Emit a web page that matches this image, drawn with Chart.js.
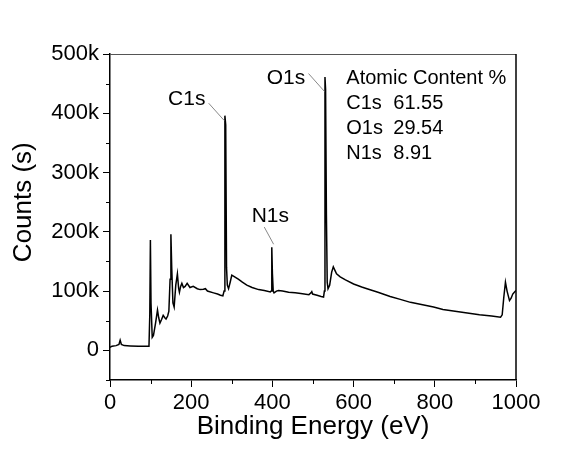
<!DOCTYPE html>
<html lang="en">
<head>
<meta charset="UTF-8">
<title>XPS Survey Spectrum</title>
<script src="https://cdn.jsdelivr.net/npm/chart.js"></script>
<style>
  * { margin: 0; padding: 0; box-sizing: border-box; }
  body { background: #fff; }
  .chart-box { position: relative; width: 587px; height: 450px; }
</style>
</head>
<body>
<div class="chart-box"><canvas id="xps"></canvas></div>
<script>
// survey spectrum
const energy = [0, 5, 15, 22, 25, 28, 35, 50, 70, 90, 96, 98, 99.5, 101, 104, 107, 112, 117, 120, 123,
  127, 131, 135, 138, 142, 145, 148, 150, 152, 155, 158, 162, 166, 169, 171, 174, 177, 181, 185, 190,
  197, 205, 215, 222, 230, 235, 240, 255, 265, 272, 278, 281, 283, 285, 287, 289, 292, 296, 300, 305,
  316, 326, 337, 350, 366, 380, 395, 397, 398.5, 400, 402, 404, 410, 415, 425, 440, 456, 470, 490, 495,
  497, 499, 510, 520, 526, 528, 529.5, 531, 533, 535, 537, 541, 546, 550, 554, 558, 567, 580, 600, 620,
  633, 660, 690, 715, 740, 770, 797, 820, 850, 880, 910, 940, 962, 966, 970, 974, 978, 984, 988, 992,
  997, 1000];
const counts = [5000, 7000, 8000, 10000, 17000, 10000, 8000, 7500, 7000, 7000, 7000, 60000, 186000, 80000, 22000, 25000, 45000, 68000, 55000, 46000,
  52000, 59000, 55000, 53000, 58000, 66000, 120000, 196000, 140000, 80000, 73000, 110000, 129000, 105000, 98000, 108000, 113000, 106000, 108000, 113000,
  106000, 108000, 104000, 102500, 103000, 104000, 100000, 97000, 95000, 93000, 92000, 100000, 396000, 380000, 140000, 110000, 104000, 115000, 127000, 125000,
  120000, 115000, 110000, 106000, 102500, 101000, 98500, 100000, 174000, 130000, 100000, 97000, 100000, 101000, 100000, 98000, 97000, 96000, 94000, 97000,
  99000, 95000, 93000, 91000, 90000, 100000, 461000, 440000, 230000, 115000, 104000, 110000, 132000, 141000, 135000, 129000, 124000, 119000, 112000, 107000,
  104000, 98000, 91000, 86000, 81000, 77000, 73000, 69000, 66000, 63000, 60000, 58000, 56000, 60000, 90000, 115000, 100000, 84000, 88000, 95000,
  99000, 101000];

const xTicks = [0, 200, 400, 600, 800, 1000];
const xMinor = [100, 300, 500, 700, 900];
const yTicks = [0, 100000, 200000, 300000, 400000, 500000];
const yTickLabels = ['0', '100k', '200k', '300k', '400k', '500k'];
const yMinor = [-50000, 50000, 150000, 250000, 350000, 450000];

const contentNames = ['C1s', 'O1s', 'N1s'];
const contentValues = ['61.55', '29.54', '8.91'];

// peak labels: text anchor and leader line, in data units (eV, counts)
const peakLabels = [
  { text: 'C1s', at: [143, 414000], from: [243, 417000], to: [281, 388000] },
  { text: 'O1s', at: [386, 450000], from: [489, 467000], to: [528, 437000] },
  { text: 'N1s', at: [349, 217000], from: [380, 208000], to: [403, 179000] }
];

const FONT = "'Liberation Sans', Arial, sans-serif";

const extras = {
  id: 'extras',
  afterDraw(chart) {
    const { ctx, chartArea: a, scales: { x, y } } = chart;
    ctx.save();

    // top / right frame
    ctx.strokeStyle = '#555';
    ctx.lineWidth = 1;
    ctx.beginPath();
    ctx.moveTo(a.left, a.top + 0.5);
    ctx.lineTo(a.right, a.top + 0.5);
    ctx.stroke();
    ctx.strokeStyle = '#000';
    ctx.lineWidth = 1.5;
    ctx.beginPath();
    ctx.moveTo(a.right, a.top);
    ctx.lineTo(a.right, a.bottom);
    ctx.stroke();

    // minor ticks
    ctx.lineWidth = 1;
    ctx.beginPath();
    xMinor.forEach(v => {
      const px = Math.round(x.getPixelForValue(v)) + 0.5;
      ctx.moveTo(px, a.bottom);
      ctx.lineTo(px, a.bottom + 4);
    });
    yMinor.forEach(v => {
      const py = Math.round(y.getPixelForValue(v)) + 0.5;
      ctx.moveTo(a.left, py);
      ctx.lineTo(a.left - 4, py);
    });
    ctx.stroke();

    // axis titles
    ctx.fillStyle = '#000';
    ctx.font = '26px ' + FONT;
    ctx.textAlign = 'center';
    ctx.textBaseline = 'alphabetic';
    ctx.fillText('Binding Energy (eV)', (a.left + a.right) / 2, 434);
    ctx.save();
    ctx.translate(24, (y.getPixelForValue(0) + a.top) / 2);
    ctx.rotate(-Math.PI / 2);
    ctx.textBaseline = 'middle';
    ctx.fillText('Counts (s)', 0, 0);
    ctx.restore();

    // peak labels
    ctx.textAlign = 'left';
    ctx.textBaseline = 'alphabetic';
    ctx.font = '21px ' + FONT;
    peakLabels.forEach(p => {
      ctx.fillStyle = '#000';
      ctx.fillText(p.text, x.getPixelForValue(p.at[0]), y.getPixelForValue(p.at[1]));
      ctx.strokeStyle = '#888';
      ctx.lineWidth = 1;
      ctx.beginPath();
      ctx.moveTo(x.getPixelForValue(p.from[0]), y.getPixelForValue(p.from[1]));
      ctx.lineTo(x.getPixelForValue(p.to[0]), y.getPixelForValue(p.to[1]));
      ctx.stroke();
    });

    // atomic content table
    ctx.font = '20px ' + FONT;
    ctx.fillStyle = '#000';
    const tx = x.getPixelForValue(582);
    const ty = y.getPixelForValue(449000);
    ctx.fillText('Atomic Content %', tx, ty);
    contentNames.forEach((n, i) => {
      ctx.fillText(n, tx, ty + 25 * (i + 1));
      ctx.fillText(contentValues[i], tx + 47, ty + 25 * (i + 1));
    });

    ctx.restore();
  }
};

new Chart(document.getElementById('xps'), {
  type: 'line',
  data: {
    datasets: [{
      data: energy.map((e, i) => ({ x: e, y: counts[i] })),
      borderColor: '#000',
      borderWidth: 1.5,
      pointRadius: 0,
      tension: 0,
      fill: false
    }]
  },
  options: {
    responsive: true,
    maintainAspectRatio: false,
    animation: false,
    layout: { padding: { left: 0, right: 71, top: 54, bottom: 0 } },
    plugins: { legend: { display: false }, tooltip: { enabled: false } },
    scales: {
      x: {
        type: 'linear',
        min: 0,
        max: 1000,
        afterBuildTicks: s => { s.ticks = xTicks.map(v => ({ value: v })); },
        afterFit: s => { s.height = 70; },
        border: { display: true, color: '#000', width: 1.5 },
        grid: { display: true, drawOnChartArea: false, tickLength: 7, color: '#000', tickWidth: 1 },
        ticks: {
          color: '#000', padding: 3, maxRotation: 0, autoSkip: false,
          font: { family: FONT, size: 22 },
          callback: v => String(v)
        }
      },
      y: {
        type: 'linear',
        min: -50000,
        max: 500000,
        afterBuildTicks: s => { s.ticks = yTicks.map(v => ({ value: v })); },
        afterFit: s => { s.width = 110; },
        border: { display: true, color: '#000', width: 1.5 },
        grid: { display: true, drawOnChartArea: false, tickLength: 7, tickWidth: 1, color: '#000' },
        ticks: {
          color: '#000', padding: 4, autoSkip: false,
          font: { family: FONT, size: 22 },
          callback: (v, i) => yTickLabels[i]
        }
      }
    }
  },
  plugins: [extras]
});
</script>
</body>
</html>
